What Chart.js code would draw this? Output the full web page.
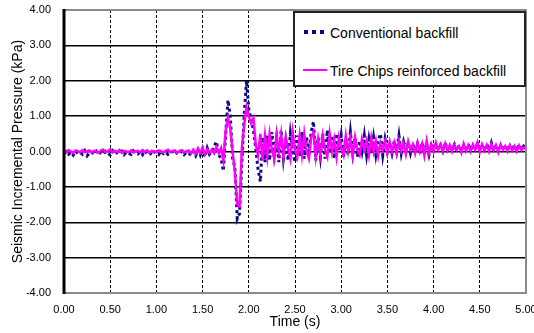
<!DOCTYPE html>
<html>
<head>
<meta charset="utf-8">
<script src="https://cdn.jsdelivr.net/npm/chart.js@4.4.0/dist/chart.umd.min.js"></script>
<style>
  html, body { margin: 0; padding: 0; background: #fff; }
  #wrap { position: relative; width: 534px; height: 333px; font-family: "Liberation Sans", Arial, sans-serif; }
  #legendBox { position: absolute; left: 293px; top: 11px; width: 229px; height: 72px; border: 2px solid #222; background: #fff; }
  .leg-row { position: absolute; left: 35px; height: 20px; font-size: 14px; line-height: 20px; color: #000; white-space: nowrap; }
  .sq { position: absolute; width: 4px; height: 4px; background: #0a0a80; }
  .mline { position: absolute; left: 8px; top: 56px; width: 24px; height: 2px; background: #ff00ff; }
</style>
</head>
<body>
<div id="wrap">
  <canvas id="pressureChart" width="534" height="333"></canvas>
  <div id="legendBox">
    <div class="sq" style="left:9px;top:17px"></div>
    <div class="sq" style="left:17px;top:17px"></div>
    <div class="sq" style="left:25px;top:17px"></div>
    <div class="leg-row" style="top:10px">Conventional backfill</div>
    <div class="mline"></div>
    <div class="leg-row" style="top:48px">Tire Chips reinforced backfill</div>
  </div>
</div>
<script>
// sample times (s)
const timeSec = [
  0.000, 0.025, 0.050, 0.075, 0.100, 0.125, 0.150, 0.175,
  0.200, 0.225, 0.250, 0.275, 0.300, 0.325, 0.350, 0.375,
  0.400, 0.425, 0.450, 0.475, 0.500, 0.525, 0.550, 0.575,
  0.600, 0.625, 0.650, 0.675, 0.700, 0.725, 0.750, 0.775,
  0.800, 0.825, 0.850, 0.875, 0.900, 0.925, 0.950, 0.975,
  1.000, 1.025, 1.050, 1.075, 1.100, 1.125, 1.150, 1.175,
  1.200, 1.225, 1.250, 1.275, 1.300, 1.325, 1.350, 1.375,
  1.400, 1.425, 1.450, 1.475, 1.500, 1.525, 1.550, 1.575,
  1.600, 1.625, 1.650, 1.675, 1.700, 1.725, 1.750, 1.775,
  1.800, 1.825, 1.850, 1.875, 1.900, 1.925, 1.950, 1.975,
  2.000, 2.025, 2.050, 2.075, 2.100, 2.125, 2.150, 2.175,
  2.200, 2.225, 2.250, 2.275, 2.300, 2.325, 2.350, 2.375,
  2.400, 2.425, 2.450, 2.475, 2.500, 2.525, 2.550, 2.575,
  2.600, 2.625, 2.650, 2.675, 2.700, 2.725, 2.750, 2.775,
  2.800, 2.825, 2.850, 2.875, 2.900, 2.925, 2.950, 2.975,
  3.000, 3.025, 3.050, 3.075, 3.100, 3.125, 3.150, 3.175,
  3.200, 3.225, 3.250, 3.275, 3.300, 3.325, 3.350, 3.375,
  3.400, 3.425, 3.450, 3.475, 3.500, 3.525, 3.550, 3.575,
  3.600, 3.625, 3.650, 3.675, 3.700, 3.725, 3.750, 3.775,
  3.800, 3.825, 3.850, 3.875, 3.900, 3.925, 3.950, 3.975,
  4.000, 4.025, 4.050, 4.075, 4.100, 4.125, 4.150, 4.175,
  4.200, 4.225, 4.250, 4.275, 4.300, 4.325, 4.350, 4.375,
  4.400, 4.425, 4.450, 4.475, 4.500, 4.525, 4.550, 4.575,
  4.600, 4.625, 4.650, 4.675, 4.700, 4.725, 4.750, 4.775,
  4.800, 4.825, 4.850, 4.875, 4.900, 4.925, 4.950, 4.975,
  5.000
];

// Conventional backfill (kPa)
const conventional = [
  -0.05, 0.00, -0.08, -0.02, -0.10, 0.01, -0.06, -0.03,
  -0.08, 0.02, -0.12, -0.04, -0.02, -0.09, 0.01, -0.06,
  -0.03, -0.08, 0.00, -0.05, -0.10, 0.02, -0.07, -0.03,
  -0.06, 0.01, -0.09, -0.02, -0.05, -0.08, 0.02, -0.04,
  -0.07, -0.01, -0.09, 0.02, -0.06, -0.03, -0.10, -0.01,
  -0.05, -0.09, 0.01, -0.06, -0.02, -0.08, -0.04, 0.00,
  -0.08, -0.03, -0.06, 0.01, -0.09, -0.02, -0.05, -0.10,
  0.00, -0.12, 0.05, -0.10, 0.08, -0.15, 0.10, -0.08,
  0.00, 0.15, 0.28, -0.10, -0.20, -0.55, 0.50, 1.45,
  1.00, -0.20, -0.45, -1.90, -1.75, -0.30, 1.00, 2.00,
  1.20, 0.90, 0.60, 0.10, -0.50, -0.85, 0.40, -0.30,
  0.45, -0.25, 0.55, -0.10, 0.40, -0.30, 0.60, -0.20,
  0.30, -0.25, 0.50, 0.00, -0.30, 0.45, -0.15, 0.55,
  -0.20, 0.40, -0.10, 0.55, 0.85, -0.25, 0.40, -0.15,
  0.50, -0.20, 0.60, -0.05, 0.45, -0.20, 0.50, 0.00,
  0.45, -0.15, 0.35, -0.10, 0.55, -0.05, 0.40, -0.15,
  0.30, 0.00, 0.45, -0.10, 0.35, -0.05, 0.40, -0.10,
  0.30, 0.50, -0.10, 0.35, 0.00, 0.25, -0.05, 0.30,
  0.00, 0.45, -0.05, 0.28, 0.05, 0.25, -0.05, 0.20,
  0.05, 0.22, -0.08, 0.25, 0.00, 0.20, -0.10, 0.18,
  0.10, 0.22, 0.05, 0.18, 0.02, 0.25, 0.05, 0.15,
  0.05, 0.20, 0.02, 0.18, 0.06, 0.15, 0.03, 0.20,
  0.05, 0.18, 0.08, 0.22, 0.04, 0.16, 0.06, 0.20,
  0.05, 0.25, 0.02, 0.18, 0.06, 0.15, 0.04, 0.18,
  0.06, 0.14, 0.05, 0.18, 0.03, 0.20, 0.06, 0.15,
  0.08
];

// Tire Chips reinforced backfill (kPa)
const tireChips = [
  0.02, -0.03, 0.04, 0.00, -0.04, 0.03, 0.01, -0.02,
  0.04, -0.02, 0.01, 0.03, -0.03, 0.02, 0.00, -0.04,
  0.03, 0.05, -0.02, 0.01, 0.06, -0.03, 0.02, -0.01,
  0.04, -0.04, 0.02, 0.00, -0.02, 0.03, -0.03, 0.01,
  0.02, -0.02, 0.04, -0.01, 0.03, -0.04, 0.02, 0.00,
  -0.02, 0.03, 0.01, -0.03, 0.02, 0.05, -0.02, 0.01,
  0.03, -0.04, 0.02, 0.04, -0.02, 0.01, 0.03, -0.05,
  0.05, -0.06, 0.08, -0.03, 0.10, -0.08, 0.06, -0.04,
  0.05, -0.05, 0.12, -0.05, 0.10, -0.25, 0.60, 0.95,
  0.65, 0.00, -0.60, -1.50, -1.55, 0.10, 0.75, 1.25,
  1.00, 0.80, 0.95, 0.20, -0.10, 0.50, -0.25, 0.45,
  -0.15, 0.50, 0.05, -0.20, 0.45, 0.00, 0.50, -0.15,
  0.40, 0.10, -0.20, 0.55, 0.05, -0.15, 0.45, -0.10,
  0.50, 0.00, -0.20, 0.40, 0.55, -0.15, 0.35, -0.10,
  0.45, 0.05, -0.15, 0.50, 0.00, 0.35, -0.15, 0.40,
  0.10, -0.10, 0.45, 0.00, 0.35, -0.12, 0.40, 0.05,
  -0.10, 0.35, 0.05, 0.30, -0.10, 0.38, 0.00, 0.30,
  -0.12, 0.25, 0.05, 0.30, -0.05, 0.28, 0.00, 0.25,
  -0.05, 0.30, 0.02, 0.22, -0.08, 0.28, 0.05, 0.20,
  -0.05, 0.25, 0.00, 0.22, -0.12, 0.30, -0.05, 0.20,
  0.00, 0.25, 0.05, 0.20, 0.00, 0.22, 0.03, 0.18,
  0.00, 0.20, 0.05, 0.15, -0.03, 0.22, 0.02, 0.18,
  0.00, 0.20, 0.05, 0.25, -0.02, 0.20, 0.03, 0.18,
  0.00, 0.22, 0.04, 0.18, -0.02, 0.20, 0.05, 0.15,
  0.00, 0.18, 0.03, 0.15, 0.00, 0.17, 0.04, 0.12,
  0.05
];

const xRange = [0, 5];
const yRange = [-4, 4];

// plot frame: thick black left axis, grey top/right/bottom
const framePlugin = {
  id: 'frame',
  afterDatasetsDraw(chart) {
    const { ctx, chartArea: a } = chart;
    ctx.save();
    ctx.strokeStyle = '#8a8a8a';
    ctx.lineWidth = 2;
    ctx.beginPath();
    ctx.moveTo(a.left, a.top); ctx.lineTo(a.right, a.top);
    ctx.lineTo(a.right, a.bottom); ctx.lineTo(a.left, a.bottom);
    ctx.stroke();
    ctx.strokeStyle = '#000';
    ctx.lineWidth = 3;
    ctx.beginPath();
    ctx.moveTo(a.left, a.top - 1); ctx.lineTo(a.left, a.bottom + 1);
    ctx.stroke();
    ctx.restore();
  }
};

function noPad(s) {
  s.paddingTop = 0; s.paddingBottom = 0; s.paddingLeft = 0; s.paddingRight = 0;
}

new Chart(document.getElementById('pressureChart'), {
  type: 'line',
  data: {
    datasets: [{
      label: 'Tire Chips reinforced backfill',
      data: timeSec.map((t, i) => ({ x: t, y: tireChips[i] })),
      borderColor: '#ff00ff',
      borderWidth: 2.5,
      pointRadius: 0,
      tension: 0
    }, {
      label: 'Conventional backfill',
      data: timeSec.map((t, i) => ({ x: t, y: conventional[i] })),
      borderColor: '#0a0a80',
      borderWidth: 3,
      borderDash: [3, 3],
      pointRadius: 0,
      tension: 0
    }]
  },
  options: {
    responsive: false,
    animation: false,
    devicePixelRatio: 1,
    layout: { padding: { top: 10, right: 8, left: 0, bottom: 0 } },
    plugins: { legend: { display: false }, tooltip: { enabled: false } },
    scales: {
      x: {
        type: 'linear',
        min: xRange[0], max: xRange[1],
        afterFit: s => { s.height = 40; noPad(s); },
        grid: { color: '#000', lineWidth: 1, drawTicks: false },
        border: { display: false, dash: [3, 2] },
        ticks: {
          stepSize: 0.5, padding: 10, color: '#000',
          font: { family: '"Liberation Sans", Arial', size: 11 },
          callback: v => v.toFixed(2)
        },
        title: {
          display: true, text: 'Time (s)', color: '#000',
          font: { family: '"Liberation Sans", Arial', size: 14 },
          padding: { top: 0, bottom: 2 }
        }
      },
      y: {
        min: yRange[0], max: yRange[1],
        afterFit: s => { s.width = 64; noPad(s); },
        grid: { color: '#000', lineWidth: 1.5, drawTicks: false },
        border: { display: false },
        ticks: {
          stepSize: 1, padding: 13, color: '#000',
          font: { family: '"Liberation Sans", Arial', size: 11 },
          callback: v => v.toFixed(2)
        },
        title: {
          display: true, text: 'Seismic Incremental Pressure (kPa)', color: '#000',
          font: { family: '"Liberation Sans", Arial', size: 14 },
          padding: { top: 10, bottom: 0 }
        }
      }
    }
  },
  plugins: [framePlugin]
});
</script>
</body>
</html>
